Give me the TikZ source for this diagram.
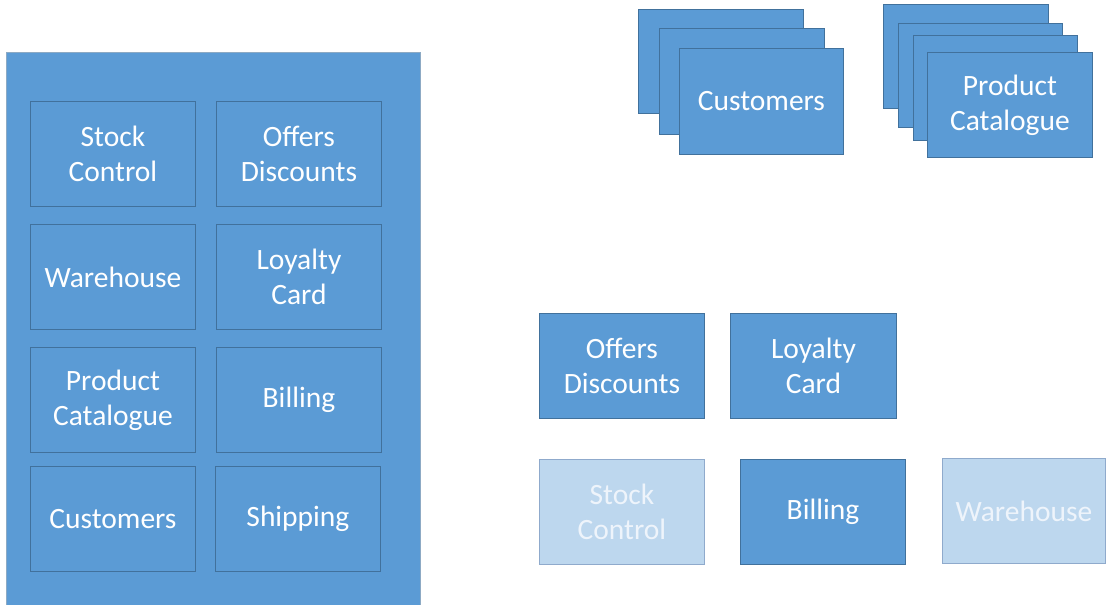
\documentclass[tikz,border=0pt]{standalone}
\usepackage{fontspec}
\setmainfont{Carlito}
\definecolor{boxblue}{HTML}{5B9BD5}
\definecolor{boxedge}{HTML}{41719C}
\definecolor{lightblue}{HTML}{BDD7EE}
\definecolor{lightedge}{HTML}{8FAACC}
\definecolor{lighttext}{HTML}{EEF4FB}
\begin{document}
\begin{tikzpicture}[x=1pt,y=-1pt,
  card/.style={draw=boxedge, fill=boxblue, line width=0.9pt, anchor=north west,
    minimum width=165pt, minimum height=105pt, inner sep=0pt, text=white, align=center,
    font=\fontsize{29.5}{35}\selectfont},
  lightcard/.style={card, draw=lightedge, fill=lightblue, text=lighttext},
  container/.style={draw=boxedge!60, fill=boxblue, line width=0.9pt, anchor=north west,
    minimum width=414pt, minimum height=560pt, inner sep=0pt}]
\useasboundingbox (0,0) rectangle (1111,605);
% left container
\node[container] (sys) at (6,52) {};
\node[card] (stock) at (30,101) {Stock\\Control};
\node[card] (offers) at (216,101) {Offers\\Discounts};
\node[card] (ware) at (30,224) {Warehouse};
\node[card] (loyal) at (216,224) {Loyalty\\Card};
\node[card] (prod) at (30,347) {Product\\Catalogue};
\node[card] (bill) at (216,347) {Billing};
\node[card] (cust) at (30,466) {Customers};
\node[card] (ship) at (215,466) {Shipping};
% customers stack
\node[card, minimum width=165pt, minimum height=104pt] (c1) at (638,9) {};
\node[card, minimum width=165pt, minimum height=106pt] (c2) at (659,28) {};
\node[card, minimum width=164pt, minimum height=106pt] (c3) at (679,48) {Customers};
% product catalogue stack
\node[card, minimum height=104pt] (p1) at (883,4) {};
\node[card, minimum width=164pt, minimum height=104pt] (p2) at (898,23) {};
\node[card, minimum width=164pt, minimum height=105pt] (p3) at (913,35) {};
\node[card, minimum width=165pt, minimum height=105pt] (p4) at (927,52) {Product\\Catalogue};
% services
\node[card] (soffers) at (539,313) {Offers\\Discounts};
\node[card, minimum width=166pt] (sloyal) at (730,313) {Loyalty\\Card};
\node[lightcard] (sstock) at (539,459) {Stock\\Control};
\node[card] (sbill) at (740,459) {Billing};
\node[lightcard, minimum width=163pt] (sware) at (942,458) {Warehouse};
\end{tikzpicture}
\end{document}
